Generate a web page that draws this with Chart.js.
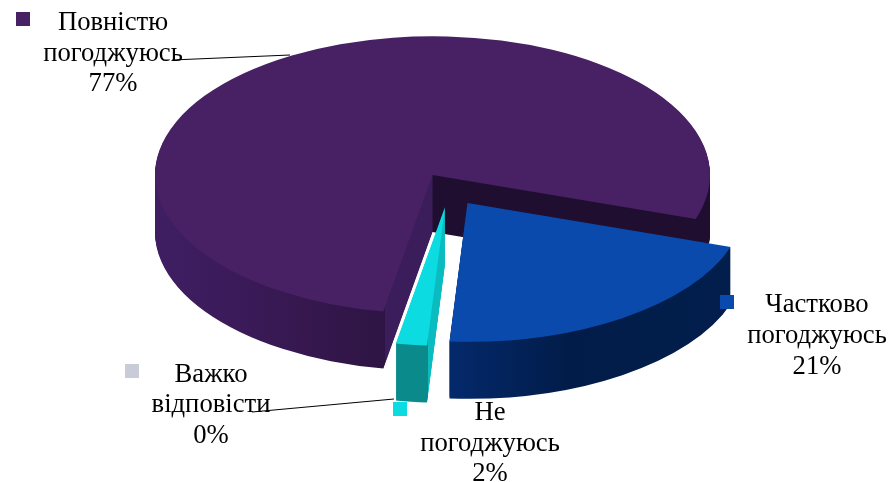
<!DOCTYPE html>
<html>
<head>
<meta charset="utf-8">
<style>
  html, body { margin: 0; padding: 0; background: #fff; }
  canvas { display: block; }
</style>
<script src="https://cdn.jsdelivr.net/npm/chart.js@4"></script>
</head>
<body>
<canvas id="pieChart" width="890" height="482"></canvas>
<script>
// data
var categories = ['Повністю погоджуюсь', 'Частково погоджуюсь', 'Не погоджуюсь', 'Важко відповісти'];
var values = [77.3, 20.9, 1.8, 0];
var labelLines = [['Повністю', 'погоджуюсь'], ['Частково', 'погоджуюсь'], ['Не', 'погоджуюсь'], ['Важко', 'відповісти']];
var sliceColors = ['#472163', '#0a4aad', '#0cdce2', '#c8ccd6'];

// fake 3d look
var pieCenter = {x: 432.5, y: 175};
var squash = 0.5;
var depth = 57;
var explode = [{x: 0, y: 0}, {x: 35, y: 28}, {x: 12.5, y: 32}, {x: 0, y: 0}];
var drawOrder = [0, 2, 1];
// side wall colours by page x
var wallStops = [
  [[155, '#3f1f62'], [220, '#3c1b5c'], [300, '#36184f'], [384.5, '#2e1444'], [385, '#3b1d5b'], [432, '#3b1d5b'], [433, '#200e30'], [711, '#200e30']],
  [[450, '#04296b'], [570, '#011c48'], [731, '#021e4c']],
  [[397, '#0a8a8a'], [427.5, '#0a8a8a'], [428, '#0abcc0'], [446, '#0abcc0']]
];

// label placement
var labelBoxes = [
  {center: 113, baselines: [30, 61, 91], marker: [16, 12]},
  {center: 817, baselines: [312, 343, 374], marker: [720, 295]},
  {center: 490, baselines: [420, 451, 481], marker: [393, 402]},
  {center: 211, baselines: [382, 412, 443], marker: [125, 364]}
];
var leaders = [
  [[172, 60], [290, 55]],
  [[252, 412], [394, 399]]
];

function placeSlice(ctx, arc, i, down) {
  ctx.translate(pieCenter.x + explode[i].x, pieCenter.y + explode[i].y + down);
  ctx.scale(1, squash);
  ctx.translate(-arc.x, -arc.y);
}

function wallFill(ctx, arc, i) {
  var shift = arc.x - pieCenter.x - explode[i].x;
  var stops = wallStops[i];
  var x0 = stops[0][0];
  var x1 = stops[stops.length - 1][0];
  var grad = ctx.createLinearGradient(x0 + shift, 0, x1 + shift, 0);
  stops.forEach(function (s) {
    grad.addColorStop((s[0] - x0) / (x1 - x0), s[1]);
  });
  return grad;
}

var pie3d = {
  id: 'pie3d',
  beforeDatasetsDraw: function (chart) {
    var ctx = chart.ctx;
    var arcs = chart.getDatasetMeta(0).data;
    drawOrder.forEach(function (i) {
      var arc = arcs[i];
      var wall = Object.create(arc);
      wall.options = Object.assign({}, arc.options, {backgroundColor: wallFill(ctx, arc, i)});
      for (var d = depth; d > 0; d--) {
        ctx.save();
        placeSlice(ctx, arc, i, d);
        wall.draw(ctx);
        ctx.restore();
      }
      ctx.save();
      placeSlice(ctx, arc, i, 0);
      arc.draw(ctx);
      ctx.restore();
    });
    return false;
  },
  afterDraw: function (chart) {
    var ctx = chart.ctx;
    ctx.save();
    ctx.strokeStyle = '#000';
    ctx.lineWidth = 1;
    leaders.forEach(function (l) {
      ctx.beginPath();
      ctx.moveTo(l[0][0], l[0][1]);
      ctx.lineTo(l[1][0], l[1][1]);
      ctx.stroke();
    });
    ctx.font = '26.67px "Liberation Serif"';
    ctx.textAlign = 'center';
    labelBoxes.forEach(function (box, i) {
      ctx.fillStyle = sliceColors[i];
      ctx.fillRect(box.marker[0], box.marker[1], 14, 14);
      ctx.fillStyle = '#000';
      var lines = labelLines[i].concat(Math.round(values[i]) + '%');
      lines.forEach(function (line, n) {
        ctx.fillText(line, box.center, box.baselines[n]);
      });
    });
    ctx.restore();
  }
};

var ctx = document.getElementById('pieChart');
var myChart = new Chart(ctx, {
  type: 'pie',
  plugins: [pie3d],
  data: {
    labels: categories,
    datasets: [{
      data: values,
      backgroundColor: sliceColors,
      borderWidth: 0
    }]
  },
  options: {
    responsive: false,
    animation: false,
    rotation: 190.2,
    radius: 277.5,
    plugins: {
      legend: {display: false},
      tooltip: {enabled: false}
    }
  }
});
</script>
</body>
</html>
